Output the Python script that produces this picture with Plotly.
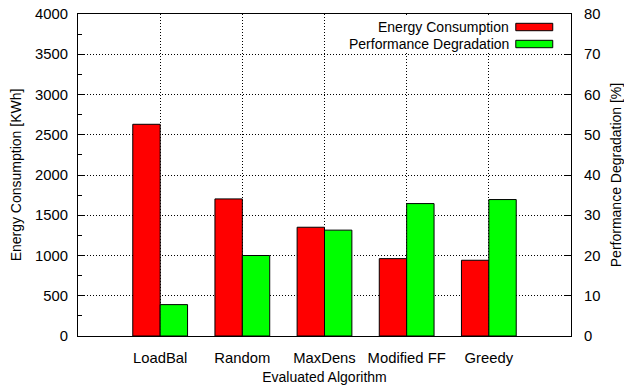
import plotly.graph_objects as go

# Evaluated algorithms and their measured results
algorithms = ["LoadBal", "Random", "MaxDens", "Modified FF", "Greedy"]
energy_kwh = [2630, 1703, 1351, 961, 941]
perf_degradation_pct = [7.8, 20.0, 26.3, 32.9, 33.9]

energy_ticks = [0, 500, 1000, 1500, 2000, 2500, 3000, 3500, 4000]
perf_ticks = [0, 10, 20, 30, 40, 50, 60, 70, 80]

FONT = "Liberation Sans, Arial, sans-serif"
RED = "#ff0000"
GREEN = "#00ff00"
BAR_W = 1 / 3
GRID_DASH = "1px,2px"

fig = go.Figure()
fig.add_trace(go.Bar(
    x=algorithms, y=energy_kwh, name="Energy Consumption",
    width=BAR_W, offset=-BAR_W, yaxis="y",
    marker=dict(color=RED, line=dict(color="black", width=1)),
    showlegend=False,
))
fig.add_trace(go.Bar(
    x=algorithms, y=perf_degradation_pct, name="Performance Degradation",
    width=BAR_W, offset=0, yaxis="y2",
    marker=dict(color=GREEN, line=dict(color="black", width=1)),
    showlegend=False,
))

title_font = dict(family=FONT, size=14, color="black")
tick_font = dict(family=FONT, size=14.8, color="black")

fig.update_layout(
    width=624, height=385,
    margin=dict(l=78, r=53, t=14, b=49),
    paper_bgcolor="white", plot_bgcolor="white",
    font=dict(family=FONT, size=14, color="black"),
    barmode="overlay",
    xaxis=dict(
        type="category", range=[-1, len(algorithms)], automargin=False,
        showline=True, linecolor="black", linewidth=1, mirror=True,
        showgrid=True, gridcolor="black", griddash=GRID_DASH, gridwidth=1,
        ticks="", ticklabelstandoff=8, tickfont=tick_font,
        title=dict(text="Evaluated Algorithm", standoff=10, font=title_font),
    ),
    yaxis=dict(
        range=[0, 4000], tickvals=energy_ticks, automargin=False,
        showline=True, linecolor="black", linewidth=1,
        showgrid=True, gridcolor="black", griddash=GRID_DASH, gridwidth=1,
        ticks="inside", ticklen=6, tickcolor="black", ticklabelstandoff=6,
        tickfont=tick_font,
        minor=dict(dtick=250, ticks="inside", ticklen=4, tickcolor="black", showgrid=False),
        zeroline=False,
        title=dict(text="Energy Consumption [KWh]", standoff=10, font=title_font),
    ),
    yaxis2=dict(
        range=[0, 80], tickvals=perf_ticks, overlaying="y", side="right", automargin=False,
        showline=True, linecolor="black", linewidth=1,
        showgrid=False, zeroline=False,
        ticks="inside", ticklen=6, tickcolor="black", ticklabelstandoff=9,
        tickfont=tick_font,
        title=dict(text="Performance Degradation [%]", standoff=15, font=title_font),
    ),
)

# Key box in the upper right: labels on the left, colour swatches on the right
shapes = [dict(type="rect", xref="paper", yref="paper", x0=0.527, x1=0.99, y0=0.885, y1=0.994,
               fillcolor="white", line=dict(width=0), layer="above")]
key_rows = [("Energy Consumption", RED, 0.9596), ("Performance Degradation", GREEN, 0.9068)]
annotations = []
for label, color, yc in key_rows:
    shapes.append(dict(type="rect", xref="paper", yref="paper", x0=0.888, x1=0.963,
                       y0=yc - 0.0115, y1=yc + 0.0115, fillcolor=color,
                       line=dict(color="black", width=1), layer="above"))
    annotations.append(dict(text=label, xref="paper", yref="paper", x=0.879, y=yc,
                            xanchor="right", yanchor="middle", showarrow=False,
                            font=dict(family=FONT, size=14, color="black")))
fig.update_layout(shapes=shapes, annotations=annotations)

fig.write_html("out.html")
